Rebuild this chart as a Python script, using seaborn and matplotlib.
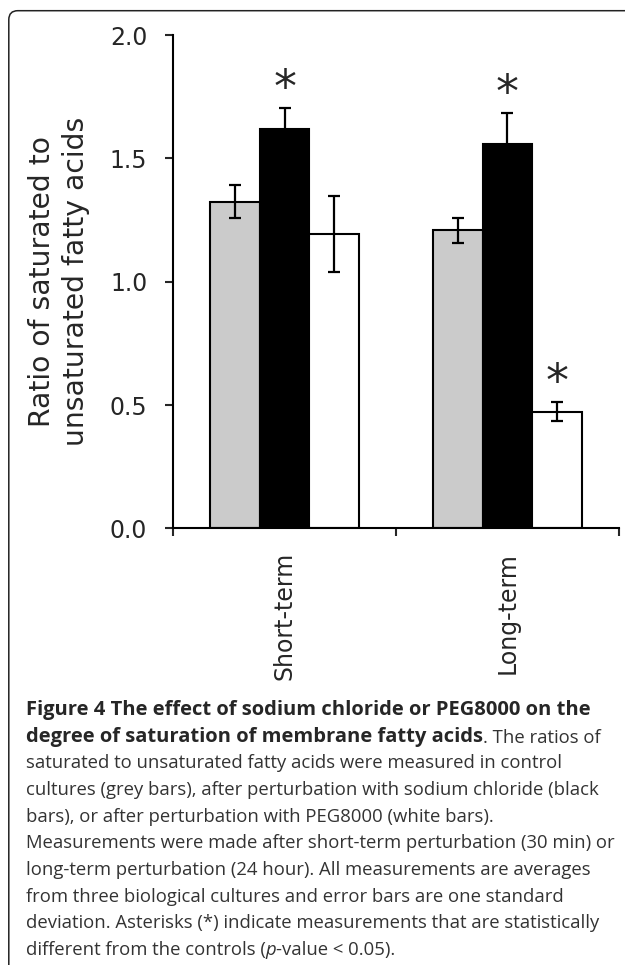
import pandas as pd
import matplotlib.pyplot as plt
import seaborn as sns
from matplotlib.patches import FancyBboxPatch
from matplotlib.transforms import IdentityTransform

# values
terms = ['Short-term', 'Long-term']
treatments = ['Control', 'NaCl', 'PEG8000']
control = [1.324, 1.209]
control_sd = [0.067, 0.051]
nacl = [1.618, 1.557]
nacl_sd = [0.087, 0.128]
peg = [1.193, 0.473]
peg_sd = [0.153, 0.038]
nacl_sig = [True, True]
peg_sig = [False, True]

bar_colors = ['#cbcbcb', '#000000', '#ffffff']

rows = []
for t, vals in zip(treatments, [control, nacl, peg]):
    for term, v in zip(terms, vals):
        rows.append({'term': term, 'treatment': t, 'ratio': v})
df = pd.DataFrame(rows)
sds = [control_sd, nacl_sd, peg_sd]
sigs = [[False, False], nacl_sig, peg_sig]

sns.set_style('white')
plt.rcParams['font.family'] = ['DejaVu Sans']

fig = plt.figure(figsize=(6.25, 9.65), dpi=100)
ax = fig.add_axes([0.2773, 0.4525, 0.7125, 0.5112])

sns.barplot(data=df, x='term', y='ratio', hue='treatment', palette=bar_colors,
            width=0.667, edgecolor='black', linewidth=1.5, errorbar=None,
            legend=False, ax=ax, saturation=1)

# error bars and asterisks
bar_conts = list(ax.containers)
for i, cont in enumerate(bar_conts):
    for j, bar in enumerate(cont):
        xc = bar.get_x() + bar.get_width() / 2
        top = bar.get_height()
        ax.errorbar(xc, top, yerr=sds[i][j], fmt='none', ecolor='black',
                    elinewidth=1.6, capsize=4.6, capthick=1.6, zorder=5)
        if sigs[i][j]:
            ax.annotate('*', xy=(xc, top + sds[i][j]), xytext=(0, -3),
                        textcoords='offset points', ha='center', va='bottom',
                        fontsize=33)

ax.set_xlim(-0.5, 1.5)
ax.set_ylim(0, 2.0)
ax.set_yticks([0, 0.5, 1.0, 1.5, 2.0])
ax.set_yticklabels(['0.0', '0.5', '1.0', '1.5', '2.0'])
ax.set_xticks([0, 1])
ax.set_xticklabels(terms, rotation=90)
ax.set_xticks([-0.5, 0.5, 1.5], minor=True)
ax.tick_params(axis='x', which='major', length=0, pad=17, labelsize=17)
ax.tick_params(axis='x', which='minor', length=5.5, width=1.5, direction='out', bottom=True)
ax.tick_params(axis='y', length=5.8, width=1.5, direction='out', pad=13, labelsize=17, left=True)
ax.set_xlabel('')
ax.set_ylabel('Ratio of saturated to\nunsaturated fatty acids', fontsize=20.3,
              linespacing=1.3)
ax.yaxis.label.set(rotation_mode='default', va='center', ha='center')
ax.yaxis.set_label_coords(-0.257, 0.5)
sns.despine(ax=ax)
for s in ['left', 'bottom']:
    ax.spines[s].set_linewidth(1.5)
    ax.spines[s].set_color('black')

# caption
cap_font = 'Open Sans'
bold_size = 14.5
cap_size = 13.3
grey_txt = '#333333'
x0 = 26 / 625
base = [715 + k * 26.67 for k in range(10)]
def yb(k):
    return 1 - base[k] / 965

fig.text(x0, yb(0), 'Figure 4 The effect of sodium chloride or PEG8000 on the',
         family=cap_font, weight='bold', size=bold_size, va='baseline')
t2 = fig.text(x0, yb(1), 'degree of saturation of membrane fatty acids',
              family=cap_font, weight='bold', size=bold_size, va='baseline')
ax.annotate('. The ratios of', xy=(1, 0), xycoords=t2, va='bottom', ha='left',
            family=cap_font, size=cap_size, color=grey_txt, annotation_clip=False)
plain = ['saturated to unsaturated fatty acids were measured in control',
         'cultures (grey bars), after perturbation with sodium chloride (black',
         'bars), or after perturbation with PEG8000 (white bars).',
         'Measurements were made after short-term perturbation (30 min) or',
         'long-term perturbation (24 hour). All measurements are averages',
         'from three biological cultures and error bars are one standard',
         'deviation. Asterisks (*) indicate measurements that are statistically']
for k, line in enumerate(plain):
    fig.text(x0, yb(k + 2), line, family=cap_font, size=cap_size,
             va='baseline', color=grey_txt)
t10 = fig.text(x0, yb(9), 'different from the controls (', family=cap_font,
               size=cap_size, va='baseline', color=grey_txt)
t11 = ax.annotate('p', xy=(1, 0), xycoords=t10, va='bottom', ha='left',
                  family=cap_font, style='italic', size=cap_size,
                  color=grey_txt, annotation_clip=False)
ax.annotate('-value < 0.05).', xy=(1, 0), xycoords=t11, va='bottom', ha='left',
            family=cap_font, size=cap_size, color=grey_txt, annotation_clip=False)

# rounded frame
frame = FancyBboxPatch((8.8, -40), 700, 954.3 + 40, boxstyle='round,pad=0,rounding_size=9',
                       transform=IdentityTransform(), fill=False,
                       edgecolor='#222222', linewidth=1.1)
fig.add_artist(frame)

fig.savefig('out.png', dpi=100)
